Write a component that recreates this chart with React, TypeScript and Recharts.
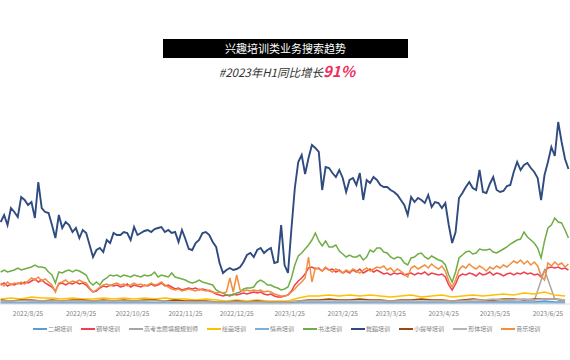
import { LineChart, Line, XAxis, YAxis } from "recharts";

// x axis: day index, 0 = 2022/8/25
const TICK_DAYS = [0, 31, 61, 92, 122, 153, 184, 212, 243, 273, 304];
const TICK_LABELS = [
  "2022/8/25",
  "2022/9/25",
  "2022/10/25",
  "2022/11/25",
  "2022/12/25",
  "2023/1/25",
  "2023/2/25",
  "2023/3/25",
  "2023/4/25",
  "2023/5/25",
  "2023/6/25",
];

// main series sampled every 2 days from day -16
const MAIN_START = -16;
const MAIN_STEP = 2;

const DANCE = [
  82, 89, 79, 96, 92, 87, 107, 104, 99, 102,
  86, 122, 96, 92, 91, 79, 66, 89, 76, 82,
  79, 72, 76, 66, 74, 71, 59, 47, 54, 56,
  52, 64, 61, 71, 69, 69, 72, 71, 64, 77,
  69, 71, 73, 74, 72, 75, 76, 77, 72, 74,
  71, 72, 62, 74, 65, 55, 54, 61, 64, 71,
  72, 69, 62, 57, 41, 31, 34, 36, 34, 35,
  37, 42, 49, 51, 47, 54, 56, 51, 54, 56,
  41, 42, 79, 39, 31, 75, 116, 142, 149, 130,
  146, 159, 156, 152, 114, 137, 136, 131, 127, 134,
  126, 112, 124, 126, 119, 131, 104, 124, 121, 127,
  124, 119, 117, 117, 114, 112, 109, 104, 99, 89,
  107, 102, 106, 104, 101, 109, 97, 102, 101, 96,
  101, 79, 61, 72, 106, 111, 117, 122, 116, 114,
  134, 112, 111, 120, 127, 114, 112, 113, 118, 119,
  132, 142, 134, 139, 141, 136, 132, 126, 104, 129,
  142, 157, 148, 182, 162, 145, 135,
];

const CALLIGRAPHY = [
  32, 34, 32, 33, 34, 36, 34, 35, 36, 37,
  39, 37, 37, 36, 32, 29, 21, 32, 31, 33,
  34, 32, 34, 33, 31, 29, 22, 19, 22, 19,
  24, 26, 29, 28, 29, 27, 29, 28, 27, 29,
  28, 27, 29, 28, 29, 32, 27, 29, 28, 27,
  31, 27, 26, 25, 24, 22, 21, 22, 24, 22,
  21, 20, 19, 14, 12, 11, 9, 9, 9, 11,
  12, 15, 16, 16, 17, 22, 24, 22, 19, 19,
  17, 16, 14, 15, 17, 26, 39, 48, 51, 55,
  59, 64, 71, 63, 58, 63, 57, 57, 59, 53,
  50, 47, 49, 47, 47, 49, 44, 47, 54, 52,
  56, 56, 52, 51, 47, 45, 47, 46, 41, 39,
  46, 47, 50, 51, 47, 45, 48, 46, 44, 43,
  39, 29, 22, 32, 46, 49, 52, 53, 50, 51,
  55, 54, 54, 55, 52, 51, 53, 55, 57, 60,
  62, 64, 65, 72, 67, 64, 61, 56, 46, 63,
  76, 79, 86, 82, 81, 74, 66,
];

const PIANO = [
  19, 21, 18, 20, 19, 21, 20, 22, 21, 23,
  25, 22, 24, 21, 19, 17, 13, 20, 21, 19,
  21, 20, 22, 20, 21, 19, 15, 12, 13, 16,
  18, 17, 19, 18, 19, 17, 18, 20, 17, 19,
  18, 17, 19, 18, 20, 18, 19, 21, 18, 19,
  17, 15, 16, 14, 15, 16, 15, 16, 14, 15,
  14, 13, 12, 10, 9, 8, 9, 8, 10, 9,
  10, 11, 10, 11, 12, 11, 12, 10, 9, 10,
  8, 7, 7, 8, 9, 13, 19, 23, 26, 30,
  36, 37, 35, 36, 33, 36, 34, 35, 32, 34,
  31, 33, 31, 34, 32, 35, 31, 33, 35, 32,
  34, 32, 30, 31, 29, 31, 30, 31, 29, 30,
  31, 29, 31, 30, 32, 29, 31, 30, 29, 30,
  27, 19, 14, 20, 28, 30, 29, 31, 30, 28,
  31, 29, 30, 32, 29, 31, 30, 28, 30, 31,
  29, 31, 30, 32, 30, 31, 29, 30, 27, 33,
  36, 37, 36, 37, 35, 36, 34,
];

const MUSIC = [
  21, 18, 22, 19, 21, 20, 22, 20, 23, 26,
  24, 27, 23, 25, 22, 19, 12, 21, 22, 24,
  21, 23, 22, 24, 22, 21, 16, 12, 14, 17,
  19, 20, 18, 20, 21, 19, 20, 18, 19, 21,
  19, 20, 18, 19, 21, 19, 20, 22, 19, 17,
  15, 14, 15, 13, 14, 15, 14, 13, 15, 14,
  13, 14, 12, 11, 12, 11, 12, 26, 12, 29,
  14, 13, 14, 13, 14, 13, 14, 12, 13, 12,
  10, 9, 8, 8, 9, 12, 15, 19, 22, 26,
  47, 22, 36, 35, 33, 37, 34, 32, 35, 33,
  31, 34, 32, 35, 33, 31, 34, 36, 33, 35,
  37, 36, 38, 34, 36, 32, 35, 33, 30, 27,
  36, 38, 35, 37, 39, 36, 40, 37, 35, 38,
  33, 23, 17, 24, 34, 38, 36, 40, 37, 35,
  38, 36, 33, 37, 35, 38, 36, 39, 37, 40,
  43, 41, 44, 40, 43, 39, 42, 38, 28, 24,
  41, 38, 42, 39, 41, 37, 40,
];

// small series sampled every 6 days from day -16
const MINOR_START = -16;
const MINOR_STEP = 6;

const PAINTING = [
  5, 6, 5, 7, 6, 6, 5, 6, 5, 5, 6, 5, 6, 5, 6, 5, 6, 5, 5, 4,
  5, 4, 3, 4, 3, 4, 3, 3, 3, 6, 8, 8, 9, 8, 9, 8, 9, 8, 7, 8,
  9, 7, 8, 9, 7, 8, 9, 8, 9, 10, 9, 11, 10, 12, 9, 8,
];
const VIOLIN = [
  4, 3, 4, 4, 3, 4, 3, 4, 4, 3, 4, 3, 4, 3, 4, 4, 3, 4, 3, 3,
  3, 2, 2, 3, 2, 3, 2, 2, 2, 3, 4, 4, 5, 4, 4, 5, 4, 4, 3, 4,
  4, 5, 4, 4, 3, 4, 5, 4, 4, 5, 5, 4, 5, 5, 5, 4,
];
const ERHU = [
  2, 2, 1, 2, 2, 2, 1, 2, 2, 2, 2, 1, 2, 2, 2, 1, 2, 2, 1, 1,
  1, 1, 1, 1, 1, 1, 1, 1, 1, 2, 2, 2, 2, 2, 2, 2, 2, 2, 2, 2,
  2, 2, 2, 2, 1, 2, 2, 2, 2, 2, 2, 2, 2, 3, 2, 2,
];
const EQ = [
  1, 1, 1, 1, 1, 1, 1, 1, 1, 1, 1, 1, 1, 1, 1, 1, 1, 1, 1, 1,
  1, 1, 0.5, 0.5, 0.5, 0.5, 0.5, 0.5, 0.5, 1, 1, 1, 1, 1, 1, 1, 1, 1, 1, 1,
  1, 1, 1, 1, 1, 1, 1, 1, 1, 1, 1, 1, 1, 1, 1, 1,
];
const BODY = [
  3, 3, 3, 3, 3, 3, 3, 3, 3, 3, 3, 3, 3, 3, 3, 3, 3, 2, 2, 2,
  2, 2, 2, 2, 2, 2, 2, 2, 2, 3, 3, 3, 3, 3, 3, 3, 3, 3, 3, 3,
  3, 3, 3, 3, 3, 3, 4, 4, 5, 4, 4, 5, 4, 5, 5, 4,
];
const GAOKAO = [
  1, 1, 1, 1, 1, 1, 1, 1, 1, 1, 1, 1, 1, 1, 1, 1, 1, 1, 1, 1,
  1, 1, 1, 1, 1, 1, 1, 1, 1, 1, 1, 1, 1, 1, 1, 1, 1, 1, 1, 1,
  1, 1, 1, 1, 2, 2, 2, 2, 3, 3, 4, 5, 3, 34, 5, 2,
];

const mainRows = DANCE.map((_, i) => ({
  d: MAIN_START + i * MAIN_STEP,
  dance: DANCE[i],
  calligraphy: CALLIGRAPHY[i],
  piano: PIANO[i],
  music: MUSIC[i],
}));

const minorRows = PAINTING.map((_, i) => ({
  d: MINOR_START + i * MINOR_STEP,
  painting: PAINTING[i],
  violin: VIOLIN[i],
  erhu: ERHU[i],
  eq: EQ[i],
  body: BODY[i],
  gaokao: GAOKAO[i],
}));

// legend / draw order
const SERIES = [
  { key: "erhu", name: "二胡培训", color: "#5b9bd5", minor: true },
  { key: "piano", name: "钢琴培训", color: "#f0404f", minor: false },
  { key: "gaokao", name: "高考志愿填报规划师", color: "#a5a5a5", minor: true },
  { key: "painting", name: "绘画培训", color: "#ffc000", minor: true },
  { key: "eq", name: "情商培训", color: "#7cafdd", minor: true },
  { key: "calligraphy", name: "书法培训", color: "#70ad47", minor: false },
  { key: "dance", name: "舞蹈培训", color: "#2f4b7f", minor: false },
  { key: "violin", name: "小提琴培训", color: "#9e480e", minor: true },
  { key: "body", name: "形体培训", color: "#b4b4b4", minor: true },
  { key: "music", name: "音乐培训", color: "#f28e3f", minor: false },
];

const FONT = '"Noto Sans CJK SC", "Noto Sans", sans-serif';

export default function App() {
  return (
    <div
      style={{
        position: "absolute",
        left: 0,
        top: 0,
        width: 570,
        height: 360,
        background: "#fff",
        fontFamily: FONT,
        overflow: "hidden",
      }}
    >
      {/* title bar */}
      <div
        style={{
          position: "absolute",
          left: 163,
          top: 39,
          width: 245,
          height: 19,
          background: "#000",
          color: "#fff",
          fontSize: 11,
          lineHeight: "19px",
          textAlign: "center",
        }}
      >
        兴趣培训类业务搜索趋势
      </div>
      <div
        style={{
          position: "absolute",
          left: 2,
          top: 61,
          width: 570,
          textAlign: "center",
          fontStyle: "italic",
          color: "#333",
          fontSize: 11.5,
          lineHeight: "20px",
        }}
      >
        #2023年H1同比增长
        <span style={{ fontSize: 15, fontWeight: 700, color: "#ee2f5b" }}>91%</span>
      </div>

      <div style={{ position: "absolute", left: 0, top: 0 }}>
        <LineChart
          width={570}
          height={360}
          data={mainRows}
          margin={{ top: 104, right: 0, bottom: 36, left: 0 }}
        >
          <XAxis
            type="number"
            dataKey="d"
            domain={[-16.4, 316.9]}
            ticks={TICK_DAYS}
            interval={0}
            tickFormatter={(v) => TICK_LABELS[TICK_DAYS.indexOf(v)]}
            tickLine={false}
            tickMargin={1}
            axisLine={{ stroke: "#d9d9d9" }}
            tick={{ fontSize: 6.5, fill: "#7f7f7f", fontFamily: FONT }}
            height={20}
            allowDataOverflow
          />
          <YAxis hide domain={[0, 200]} />
          {SERIES.map((s) => (
            <Line
              key={s.key}
              data={s.minor ? minorRows : undefined}
              dataKey={s.key}
              name={s.name}
              type="linear"
              stroke={s.color}
              strokeWidth={s.key === "dance" ? 1.9 : 1.5}
              dot={false}
              activeDot={false}
              isAnimationActive={false}
            />
          ))}
        </LineChart>
      </div>

      {/* legend */}
      <div
        style={{
          position: "absolute",
          left: 33,
          top: 324,
          display: "flex",
          alignItems: "center",
          whiteSpace: "nowrap",
        }}
      >
        {SERIES.map((s) => (
          <div
            key={s.key}
            style={{ display: "flex", alignItems: "center", marginRight: 9 }}
          >
            <span
              style={{
                display: "inline-block",
                width: 14,
                height: 2,
                background: s.color,
                marginRight: 1,
              }}
            />
            <span style={{ fontSize: 6, color: "#7f7f7f", lineHeight: "10px" }}>
              {s.name}
            </span>
          </div>
        ))}
      </div>
    </div>
  );
}
